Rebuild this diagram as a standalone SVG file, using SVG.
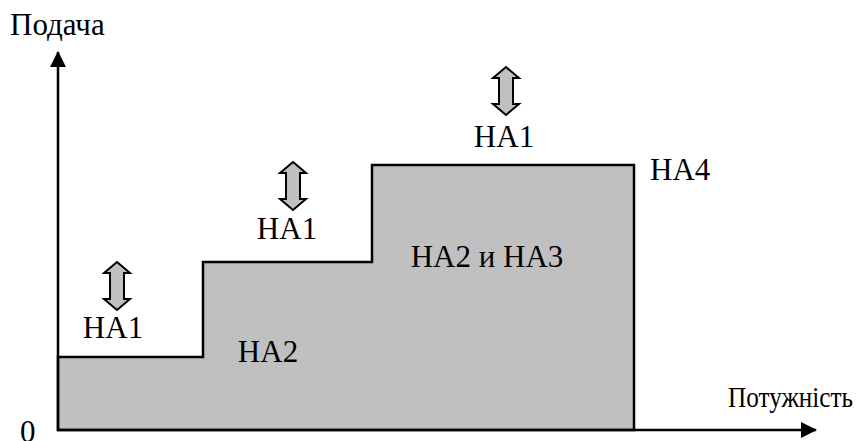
<svg xmlns="http://www.w3.org/2000/svg" width="861" height="441" viewBox="0 0 861 441">
<defs>
<style>
.ax{stroke:#000;stroke-width:2.5;fill:none}
.dbl{fill:#c0c0c0;stroke:#000;stroke-width:2}
</style>
<marker id="ah" viewBox="0 0 16 16" refX="15" refY="8" markerWidth="16" markerHeight="16" markerUnits="userSpaceOnUse" orient="auto"><path d="M0,0 L16,8 L0,16 z" fill="#000"/></marker>
<path id="darr" d="M0,-24 L13,-13 L7,-13 L7,13 L13,13 L0,24 L-13,13 L-7,13 L-7,-13 L-13,-13 Z"/>
</defs>
<g id="area">
<path d="M58,430 L58,357 L203,357 L203,262 L372,262 L372,165 L634,165 L634,430 Z" fill="#c0c0c0" stroke="#000" stroke-width="2.5"/>
</g>
<g id="connectors">
<line class="ax" x1="58" y1="431" x2="58" y2="52" marker-end="url(#ah)"/>
<line class="ax" x1="57" y1="430" x2="816" y2="430" marker-end="url(#ah)"/>
</g>
<g id="arrow1"><use href="#darr" class="dbl" x="117" y="286"/></g>
<g id="arrow2"><use href="#darr" class="dbl" x="293" y="186"/></g>
<g id="arrow3"><use href="#darr" class="dbl" x="506" y="91"/></g>
<g id="labels">
<text style="font-family:'Liberation Serif',serif;font-size:31px" x="10" y="35">Подача</text>
<text style="font-family:'Liberation Serif',serif;font-size:31px" x="20" y="442">0</text>
<text style="font-family:'Liberation Serif',serif;font-size:29px" x="728" y="407" textLength="125" lengthAdjust="spacingAndGlyphs">Потужність</text>
<text style="font-family:'Liberation Serif',serif;font-size:31px" x="113" y="338" text-anchor="middle">HA1</text>
<text style="font-family:'Liberation Serif',serif;font-size:31px" x="287" y="239" text-anchor="middle">HA1</text>
<text style="font-family:'Liberation Serif',serif;font-size:31px" x="504" y="147" text-anchor="middle">HA1</text>
<text style="font-family:'Liberation Serif',serif;font-size:31px" x="650" y="180">HA4</text>
<text style="font-family:'Liberation Serif',serif;font-size:31px" x="268" y="362" text-anchor="middle">HA2</text>
<text style="font-family:'Liberation Serif',serif;font-size:31px" x="487" y="267" text-anchor="middle">HA2 и HA3</text>
</g>
</svg>
